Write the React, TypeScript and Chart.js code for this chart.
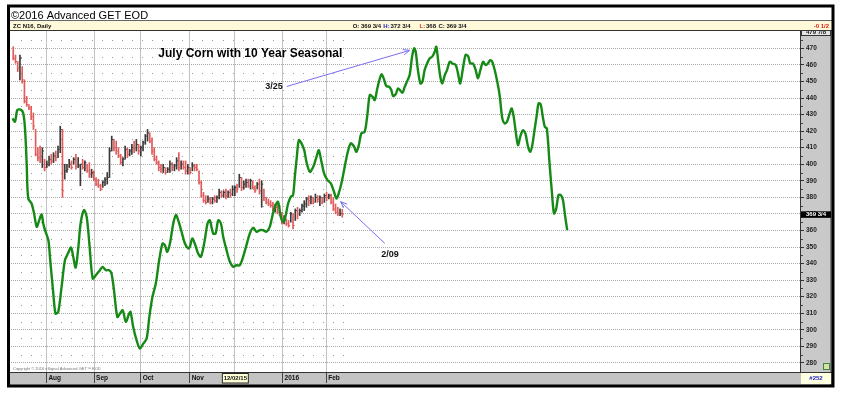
import React, { useEffect, useRef } from 'react';
import { Chart, registerables } from 'chart.js';

Chart.register(...registerables);

// ---- x axis (trading-day index) month markers ----
const monthTicks = [15.9, 37.2, 58, 79.9, 100, 121.4, 140.9];
const monthLabels = ['Aug', 'Sep', 'Oct', 'Nov', 'Dec', '2016', 'Feb'];

// ---- ZC N16 daily bars (day index = position + 1) ----
const barHigh = [
  471, 466, 462, 466, 459, 451, 441, 436, 435, 431,
  421, 410, 411, 410, 403, 402, 405, 406, 407, 408,
  411, 423, 421, 400, 400, 403, 402, 404, 406, 404,
  400, 403, 402, 400, 401, 397, 396, 392, 391, 388,
  390, 392, 395, 410, 417, 415, 414, 410, 406, 404,
  411, 410, 409, 412, 414, 415, 412, 411, 414, 418,
  421, 419, 416, 410, 405, 402, 400, 400, 398, 398,
  402, 401, 400, 404, 407, 402, 402, 402, 400, 398,
  401, 400, 400, 396, 390, 383, 381, 381, 380, 380,
  381, 381, 385, 384, 384, 385, 384, 385, 387, 387,
  388, 394, 392, 390, 391, 391, 391, 390, 387, 389,
  391, 390, 385, 380, 379, 378, 377, 376, 376, 375,
  371, 369, 367, 366, 371, 370, 373, 374, 373, 376,
  378, 380, 381, 381, 380, 382, 381, 381, 380, 382,
  383, 382, 382, 380, 376, 374, 373, 372.75,
];
const barLow = [
  463, 461, 456, 451, 449, 437, 435, 433, 427, 421,
  405, 402, 401, 398, 396, 398, 399, 400, 401, 402,
  404, 407, 380, 391, 395, 398, 397, 400, 397, 398,
  387, 397, 396, 395, 392, 392, 390, 387, 386, 384,
  386, 387, 388, 392, 408, 408, 406, 404, 400, 399,
  403, 404, 405, 406, 407, 408, 406, 405, 408, 412,
  414, 413, 406, 402, 400, 396, 395, 395, 394, 395,
  395, 396, 396, 397, 396, 397, 397, 394, 394, 394,
  396, 396, 396, 388, 380, 377, 376, 377, 376, 376,
  377, 377, 379, 380, 380, 379, 380, 380, 381, 381,
  383, 386, 384, 385, 386, 386, 385, 385, 383, 385,
  382, 374, 378, 376, 375, 374, 372, 371, 370, 369,
  364, 364, 363, 362, 365, 361, 366, 367, 369, 371,
  372, 374, 375, 376, 376, 377, 377, 375, 376, 377,
  378, 379, 376, 372, 370, 369, 369, 368,
];
const barClose = [
  464, 462, 458, 464, 451, 438, 436, 434, 429, 423,
  406, 404, 403, 408, 398, 400, 403, 402, 405, 404,
  409, 421, 384, 396, 397, 400, 398, 403, 399, 399,
  400, 398, 401, 396, 394, 395, 391, 388, 387, 385,
  389, 391, 392, 408, 415, 410, 408, 405, 401, 403,
  409, 406, 408, 410, 409, 412, 408, 410, 413, 417,
  419, 414, 408, 403, 401, 398, 397, 398, 395, 397,
  400, 398, 399, 402, 398, 400, 398, 396, 398, 395,
  399, 398, 397, 389, 381, 378, 377, 379, 377, 379,
  378, 380, 383, 381, 383, 381, 383, 382, 385, 386,
  385, 392, 386, 388, 389, 387, 390, 386, 384, 388,
  384, 388, 380, 377, 376, 375, 373, 374, 371, 370,
  365, 366, 364, 363, 370, 363, 372, 370, 372, 375,
  376, 379, 378, 380, 377, 380, 379, 380, 377, 381,
  380, 381, 377, 373, 371, 370, 370.25, 369.75,
];

// ---- 10 year seasonal (day index, value) ----
const seasonalX = [
  0.7, 1.8, 2.8, 4.3, 5.5, 6.3, 7.0, 7.7, 9.2, 10.3, 11.5, 12.6, 13.7, 14.4, 15.2, 16.7, 17.4, 18.9, 19.9, 21.1,
  22.6, 24.1, 25.6, 26.8, 27.8, 28.9, 30.1, 31.1, 32.6, 33.8, 35.0, 36.5, 37.9, 39.7, 40.9, 42.4, 43.9, 44.9, 46.0, 47.5,
  48.7, 49.9, 51.3, 52.8, 53.4, 54.6, 56.1, 57.6, 59.1, 60.6, 61.8, 63.2, 64.7, 66.2, 67.7, 68.75, 69.8, 71.0, 72.5, 73.7,
  74.7, 76.2, 77.7, 79.2, 79.9, 81.0, 82.1, 83.6, 84.8, 86.3, 87.8, 88.8, 90.3, 91.4, 92.6, 93.8, 94.8, 96.3, 97.8, 99.3,
  100.7, 102.2, 103.7, 105.2, 106.7, 108.2, 109.7, 111.2, 112.6, 114.1, 115.6, 116.7, 117.9, 119.3, 120.5, 121.6, 122.6, 123.8, 125.0, 126.0,
  126.8, 127.7, 128.6, 129.8, 131.0, 132.0, 133.5, 135.0, 136.5, 137.5, 138.7, 139.9, 141.4, 142.9, 144.3, 145.4, 146.4, 147.6, 148.8, 150.3,
  151.8, 153.3, 154.3, 155.4, 156.5, 158.0, 159.1, 160.3, 161.5, 162.5, 163.5, 164.4, 165.5, 166.5, 167.7, 168.9, 169.9, 170.7, 171.9, 172.9,
  174.0, 174.9, 175.9, 176.9, 178.1, 179.2, 180.1, 180.8, 181.8, 182.9, 183.8, 184.8, 185.9, 187.1, 188.2, 189.3, 190.0, 190.9, 191.8, 192.7,
  193.8, 194.8, 196.0, 197.2, 198.7, 199.7, 200.7, 201.9, 203.1, 204.2, 205.2, 206.4, 207.6, 208.6, 209.7, 210.9, 212.1, 213.1, 214.1, 215.0,
  216.1, 217.1, 218.3, 219.5, 220.5, 221.6, 222.8, 223.7, 224.6, 225.4, 226.5, 227.5, 228.7, 229.8, 231.0, 232.0, 232.9, 233.9, 235.0, 235.7,
  236.6, 237.6, 238.5, 239.4, 240.6, 241.7, 242.6, 243.6, 244.6, 245.7, 246.6, 247.6, 248.5,
];
const seasonalY = [
  427.7, 425.7, 432.7, 433, 430.7, 420.6, 400.5, 379.3, 376.3, 370.3, 362.2, 366.2, 369.7, 364.2, 360.2, 354.1, 344.1, 321.9, 309.8, 310.8,
  325.9, 342, 346.5, 349.7, 344.1, 337.6, 350.1, 364.2, 372.3, 368.3, 352.1, 331, 333, 336, 338, 336, 336, 334, 324, 307.8,
  309.8, 311.8, 304.8, 309.8, 310.8, 301.7, 293.7, 288.7, 291.6, 294.7, 307.8, 319.9, 328, 342, 352.1, 351.1, 347.1, 352.1, 364.2, 369.3,
  366.2, 359.2, 352.1, 349.1, 350.1, 355.1, 352.1, 346.1, 344.1, 352.1, 364.2, 366.2, 358.2, 358.2, 366.2, 364.2, 356.2, 348.1, 341.1, 338,
  339, 339, 344.1, 351.1, 358.2, 361.6, 359.2, 360.2, 360.2, 359.2, 362.2, 368.3, 374.3, 377.3, 368.3, 365.2, 368.3, 376.3, 380.3, 381.3,
  392.4, 404.5, 414.6, 412.6, 408.5, 401.5, 395.4, 398.4, 404.5, 408.5, 401.5, 394.4, 390.4, 388.4, 383.4, 379.3, 382.4, 388.4, 396.4, 406.5,
  412.6, 410.6, 407.5, 411.6, 418.6, 419.6, 428.6, 441.8, 440.8, 438.8, 444.8, 449.9, 454.3, 451.9, 447.2, 446.8, 444.8, 441.2, 442.4, 445.8,
  444.4, 443.2, 446.8, 449.9, 453.9, 465, 470, 468, 456.9, 448.8, 449.9, 456.9, 460.9, 464, 465, 468, 471, 461.9, 452.9, 448.8,
  453.9, 456.9, 461.9, 460.9, 459.9, 454.9, 448.8, 457.9, 466, 465.4, 460.9, 460.9, 456.9, 451.9, 456.9, 461.9, 459.9, 460.9, 462.9, 461.9,
  456.9, 450.9, 441.8, 427.7, 424.7, 425.7, 430.7, 433.7, 428.6, 420.6, 411.6, 416.6, 420.6, 418.6, 410.6, 407.5, 411.6, 420.6, 430.7, 436.8,
  436.4, 428.6, 422.6, 421.6, 400.5, 382.4, 370.3, 373.3, 381.3, 381.3, 378.3, 368.3, 360.2,
];

// ---- annotations (anchored in data units) ----
const noteTexts = ['3/25', '2/09'];
const noteTips = [[178.1, 468.8], [147.3, 377.4]];
const noteTails = [[123.2, 447], [167, 352.2]];

const lastValue = 369.75;
const lastLabel = '369 3/4';

const FONT = "'Liberation Sans', Arial, sans-serif";
const RED = '#e25a5a';
const DARK = '#3a3a3a';
const GREEN = '#168a16';
const ARROW = '#7a6ef0';

const barColors = barClose.map((c, k) => (k === 0 || c < barClose[k - 1] ? RED : DARK));

const chromePlugin = {
  id: 'chrome',
  beforeDraw(chart: any) {
    const ctx = chart.ctx as CanvasRenderingContext2D;
    const { right, top, bottom } = chart.chartArea;
    ctx.save();
    ctx.fillStyle = '#ffffff';
    ctx.fillRect(0, 0, chart.width, chart.height);
    ctx.fillStyle = '#fdf9d9';
    ctx.fillRect(10, 21, 822, 9);
    ctx.strokeStyle = '#666';
    ctx.lineWidth = 1;
    ctx.beginPath();
    ctx.moveTo(10, 20.5); ctx.lineTo(832, 20.5);
    ctx.stroke();
    ctx.fillStyle = '#c9c9c9';
    ctx.fillRect(right, top, 832 - right, bottom - top);
    ctx.fillStyle = '#c3c3c3';
    ctx.fillRect(10, bottom, 822, 13);
    ctx.restore();
  },
  beforeDatasetsDraw(chart: any) {
    const ctx = chart.ctx as CanvasRenderingContext2D;
    const xs = chart.scales.x;
    const ys = chart.scales.y;
    ctx.save();
    ctx.fillStyle = '#9a9a9a';
    for (let i = 4.5; i <= 151; i += 4.5) {
      const px = Math.round(xs.getPixelForValue(i));
      for (let v = 285; v <= 475; v += 10) {
        const py = Math.round(ys.getPixelForValue(v));
        ctx.fillRect(px, py, 1, 1);
      }
    }
    ctx.restore();
  },
  afterDraw(chart: any) {
    const ctx = chart.ctx as CanvasRenderingContext2D;
    const { left, right, top, bottom } = chart.chartArea;
    const xs = chart.scales.x;
    const ys = chart.scales.y;
    ctx.save();

    ctx.strokeStyle = '#333';
    ctx.lineWidth = 1;
    ctx.beginPath();
    ctx.moveTo(10, 30.5); ctx.lineTo(832, 30.5);
    ctx.moveTo(10, bottom + 0.5); ctx.lineTo(832, bottom + 0.5);
    ctx.moveTo(right + 0.5, top); ctx.lineTo(right + 0.5, bottom);
    ctx.moveTo(831, top); ctx.lineTo(831, bottom + 13);
    ctx.stroke();

    ctx.fillStyle = '#444';
    for (let v = 285; v <= 475; v += 10) {
      ctx.fillRect(right + 1, Math.round(ys.getPixelForValue(v)), 2, 1);
    }

    ctx.fillStyle = '#000';
    ctx.font = `11px ${FONT}`;
    ctx.textBaseline = 'alphabetic';
    ctx.textAlign = 'left';
    ctx.fillText('\u00a92016 Advanced GET EOD', 11, 18.5);

    ctx.font = `bold 6px ${FONT}`;
    ctx.fillStyle = '#111';
    ctx.fillText('ZC N16, Daily', 13, 27.5);
    ctx.fillText('O: 369 3/4', 352.7, 27.5);
    ctx.fillStyle = '#2020d0';
    ctx.fillText('H:', 383.3, 27.5);
    ctx.fillStyle = '#111';
    ctx.fillText('372 3/4', 390.5, 27.5);
    ctx.fillStyle = '#e03020';
    ctx.fillText('L:', 419.5, 27.5);
    ctx.fillStyle = '#111';
    ctx.fillText('368', 426, 27.5);
    ctx.fillText('C: 369 3/4', 438.5, 27.5);
    ctx.fillStyle = '#e02020';
    ctx.textAlign = 'right';
    ctx.fillText('-0 1/2', 829, 27.5);

    ctx.save();
    ctx.beginPath();
    ctx.rect(right, top, 31, 5);
    ctx.clip();
    ctx.fillStyle = '#e4e4e4';
    ctx.fillRect(right + 1, top, 30, 5);
    ctx.strokeStyle = '#333';
    ctx.strokeRect(right + 1.5, top - 3, 29, 7.5);
    ctx.fillStyle = '#222';
    ctx.textAlign = 'center';
    ctx.fillText('479 7/8', right + 16, top + 3);
    ctx.restore();

    const yl = ys.getPixelForValue(lastValue);
    ctx.fillStyle = '#000';
    ctx.fillRect(right + 1, yl - 3, 30, 6.5);
    ctx.fillStyle = '#fff';
    ctx.textAlign = 'center';
    ctx.textBaseline = 'middle';
    ctx.font = `bold 6px ${FONT}`;
    ctx.fillText(lastLabel, right + 16, yl + 0.3);

    ctx.fillStyle = '#d8e0a8';
    ctx.fillRect(823, bottom - 9, 7, 7);
    ctx.strokeStyle = '#3a8a3a';
    ctx.strokeRect(823.5, bottom - 8.5, 6, 6);

    ctx.fillStyle = '#ffffe2';
    ctx.fillRect(right + 1, bottom + 1, 30, 11);
    ctx.fillStyle = '#2323c8';
    ctx.fillText('#252', right + 16, bottom + 6.5);

    const xd = xs.getPixelForValue(monthTicks[4]);
    ctx.fillStyle = '#ffffd6';
    ctx.fillRect(xd - 13, bottom + 1.5, 27, 9.5);
    ctx.strokeStyle = '#222';
    ctx.strokeRect(xd - 12.5, bottom + 1.5, 26, 9.5);
    ctx.fillStyle = '#111';
    ctx.fillText('12/02/15', xd + 0.5, bottom + 6.5);

    ctx.font = `4px ${FONT}`;
    ctx.fillStyle = '#777';
    ctx.textAlign = 'left';
    ctx.fillText('Copyright \u00a9 2016 eSignal Advanced GET\u2122 EOD', left + 2, bottom - 3);

    ctx.font = `bold 12px ${FONT}`;
    ctx.fillStyle = '#000';
    ctx.textBaseline = 'alphabetic';
    ctx.fillText('July Corn with 10 Year Seasonal', 158.3, 57);

    ctx.strokeStyle = ARROW;
    ctx.lineWidth = 1;
    ctx.font = `bold 9px ${FONT}`;
    ctx.fillStyle = '#111';
    noteTexts.forEach((t, k) => {
      const tx = xs.getPixelForValue(noteTips[k][0]);
      const ty = ys.getPixelForValue(noteTips[k][1]);
      const sx = xs.getPixelForValue(noteTails[k][0]);
      const sy = ys.getPixelForValue(noteTails[k][1]);
      ctx.beginPath();
      ctx.moveTo(sx, sy);
      ctx.lineTo(tx, ty);
      const a = Math.atan2(ty - sy, tx - sx);
      const L = 7;
      ctx.moveTo(tx - L * Math.cos(a - 0.4), ty - L * Math.sin(a - 0.4));
      ctx.lineTo(tx, ty);
      ctx.lineTo(tx - L * Math.cos(a + 0.4), ty - L * Math.sin(a + 0.4));
      ctx.stroke();
      if (k === 0) {
        ctx.textAlign = 'right';
        ctx.fillText(t, sx - 4, sy + 2.5);
      } else {
        ctx.textAlign = 'left';
        ctx.fillText(t, sx - 3.5, sy + 14);
      }
    });

    ctx.strokeStyle = '#000';
    ctx.lineWidth = 3;
    ctx.strokeRect(8.5, 6, 824.5, 380);
    ctx.restore();
  },
};

export default function App() {
  const ref = useRef<HTMLCanvasElement>(null);
  useEffect(() => {
    const canvas = ref.current;
    if (!canvas) return;
    const chart = new Chart(canvas, {
      type: 'bar',
      data: {
        datasets: [
          {
            type: 'line',
            data: seasonalX.map((x, k) => ({ x, y: seasonalY[k] })),
            borderColor: GREEN,
            borderWidth: 2.4,
            pointRadius: 0,
            tension: 0.3,
            order: 0,
          } as any,
          {
            type: 'scatter',
            data: barClose.map((c, k) => ({ x: k + 1, y: c })),
            pointStyle: 'dash',
            pointRadius: 1.6,
            borderColor: barColors,
            backgroundColor: barColors,
            borderWidth: 1,
            order: 1,
          } as any,
          {
            type: 'bar',
            data: barHigh.map((h, k) => ({ x: k + 1, y: [barLow[k], h] })),
            backgroundColor: barColors,
            borderWidth: 0,
            barThickness: 1,
            order: 2,
          } as any,
        ],
      },
      options: {
        responsive: false,
        animation: false,
        events: [],
        layout: { padding: { left: 11, top: 31, right: 0, bottom: 0 } },
        plugins: { legend: { display: false }, tooltip: { enabled: false } },
        scales: {
          x: {
            type: 'linear',
            min: 0,
            max: 352.5,
            offset: false,
            afterBuildTicks: (s: any) => {
              s.ticks = monthTicks.map((v) => ({ value: v }));
            },
            afterFit: (s: any) => {
              s.height = 22;
            },
            border: { display: false },
            grid: {
              offset: false,
              color: '#c2c2c2',
              lineWidth: 1,
              drawTicks: true,
              tickLength: 11,
              tickColor: '#444',
              tickWidth: 1,
            },
            ticks: {
              autoSkip: false,
              maxRotation: 0,
              minRotation: 0,
              align: 'start',
              padding: -9,
              color: '#111',
              font: { family: FONT, size: 6.5, weight: 'bold' },
              callback: (v: any) => {
                const k = monthTicks.indexOf(Number(v));
                return k >= 0 ? ' ' + monthLabels[k] : '';
              },
            },
          },
          y: {
            type: 'linear',
            position: 'right',
            min: 274.5,
            max: 480.5,
            afterFit: (s: any) => {
              s.width = 41;
            },
            border: { display: false, dash: [1, 1] },
            grid: {
              color: (c: any) => (c.tick && c.tick.value > 475 ? 'rgba(0,0,0,0)' : '#a8a8a8'),
              lineWidth: 1,
              drawTicks: true,
              tickLength: 4,
              tickColor: '#333',
            },
            ticks: {
              stepSize: 10,
              includeBounds: false,
              padding: 2,
              color: '#222',
              font: { family: FONT, size: 6.5, weight: 'bold' },
              callback: (v: any) => (Number(v) > 475 ? '' : String(v)),
            },
          },
        },
      },
      plugins: [chromePlugin],
    } as any);
    return () => chart.destroy();
  }, []);
  return (
    <div style={{ position: 'fixed', left: 0, top: 0, width: 841, height: 394, background: '#fff' }}>
      <canvas ref={ref} width={841} height={394} style={{ display: 'block', width: 841, height: 394 }} />
    </div>
  );
}
